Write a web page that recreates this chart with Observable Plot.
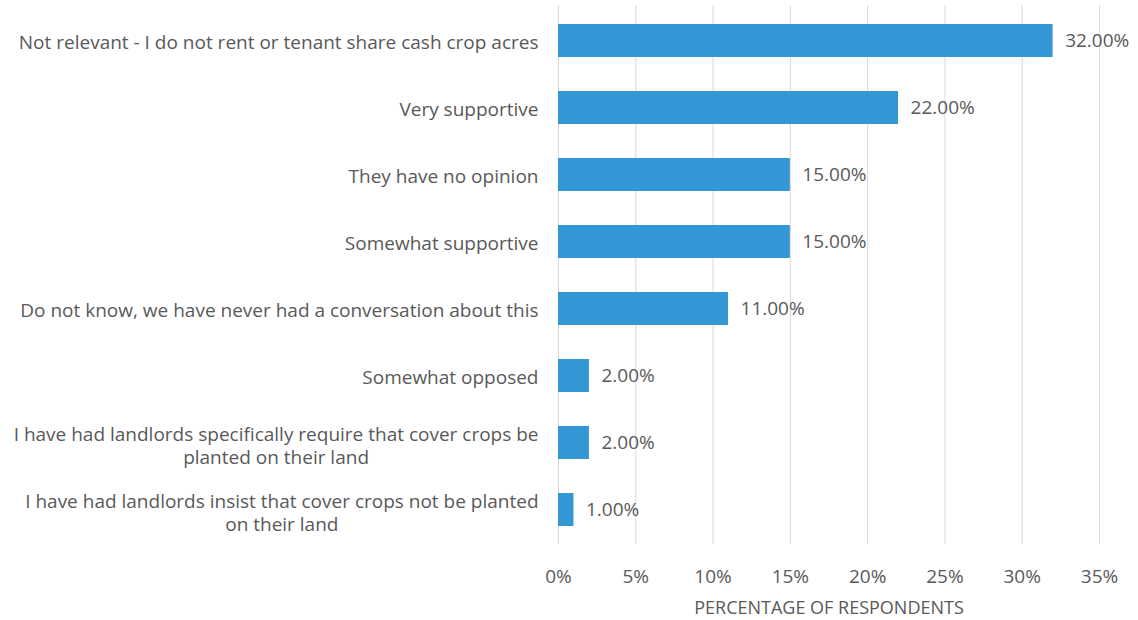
<!DOCTYPE html>
<html>
<head>
<meta charset="utf-8">
<script src="https://cdn.jsdelivr.net/npm/d3@7"></script>
<script src="https://cdn.jsdelivr.net/npm/@observablehq/plot@0.6"></script>
<style>
  html, body { margin: 0; padding: 0; background: #ffffff; }
  #chart svg { display: block; }
</style>
</head>
<body>
<div id="chart"></div>
<script>
const categories = [
  "Not relevant - I do not rent or tenant share cash crop acres",
  "Very supportive",
  "They have no opinion",
  "Somewhat supportive",
  "Do not know, we have never had a conversation about this",
  "Somewhat opposed",
  "I have had landlords specifically require that cover crops be\nplanted on their land",
  "I have had landlords insist that cover crops not be planted\non their land"
];
const values = [32, 22, 15, 15, 11, 2, 2, 1];
const xTicks = [0, 5, 10, 15, 20, 25, 30, 35];
const xLabel = "PERCENTAGE OF RESPONDENTS";

const data = categories.map((c, i) => ({category: c, value: values[i]}));
const textColor = "#595959";
const barColor = "#3497d5";
const fs = 19;

const chart = Plot.plot({
  width: 1138,
  height: 620,
  marginLeft: 558,
  marginRight: 39,
  marginTop: 5,
  marginBottom: 76,
  style: {fontFamily: "'Open Sans', sans-serif", fontSize: fs + "px", color: textColor, background: "#ffffff"},
  x: {domain: [0, 35]},
  y: {domain: categories, paddingInner: 0.51, paddingOuter: 0.255},
  marks: [
    Plot.ruleX(xTicks, {stroke: "#d9d9d9", strokeWidth: 1}),
    Plot.barX(data, {x: "value", y: "category", fill: barColor}),
    Plot.text(data, {
      x: "value", y: "category",
      text: d => d.value.toFixed(2) + "%",
      textAnchor: "start", dx: 12, fill: textColor, fontSize: fs
    }),
    Plot.axisY({
      tickSize: 0, tickPadding: 20, label: null, fill: textColor, fontSize: fs, lineHeight: 1.25
    }),
    Plot.axisX({
      ticks: xTicks, tickSize: 0, tickPadding: 25, tickFormat: d => d + "%",
      label: null, fill: textColor, fontSize: fs
    }),
    Plot.axisX({
      ticks: [], tickSize: 0,
      label: xLabel, labelAnchor: "center", labelArrow: "none", labelOffset: 69,
      fill: textColor, fontSize: 18
    })
  ]
});

document.getElementById("chart").appendChild(chart);

// Center the lines of multi-line category labels within their right-aligned block
chart.querySelectorAll("[aria-label='y-axis tick label'] text").forEach(t => {
  if (t.querySelectorAll("tspan").length > 1) {
    const w = t.getBBox().width;
    t.setAttribute("text-anchor", "middle");
    const tr = t.getAttribute("transform") || "";
    t.setAttribute("transform", tr + ` translate(${-w / 2},2)`);
  }
});
</script>
</body>
</html>
